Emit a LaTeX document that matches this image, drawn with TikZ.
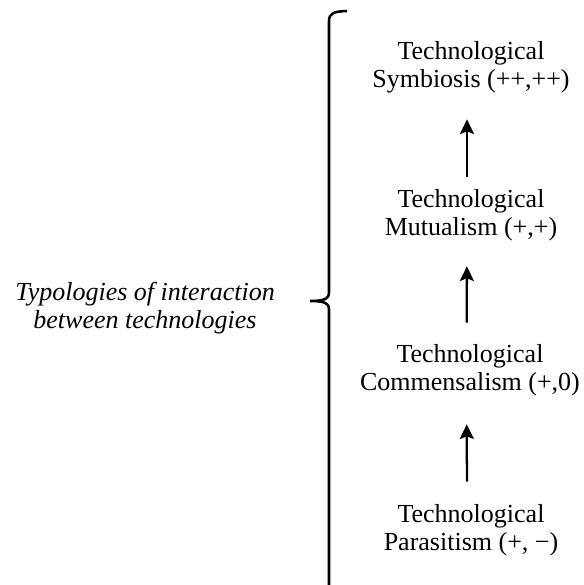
\documentclass[tikz,border=0pt]{standalone}
\usepackage{fontspec}
\setmainfont{Liberation Serif}
\usetikzlibrary{arrows.meta}

\tikzset{every picture/.style={line width=0.75pt}}
\tikzset{
  typo/.style={align=center, inner sep=0pt, font=\fontsize{19.5}{21}\selectfont},
  uparrow/.style={line width=1.7, -{Stealth[length=11pt,width=10.5pt,inset=2pt]}}
}

\begin{document}
\begin{tikzpicture}[x=0.75pt,y=0.75pt,yscale=-1,xscale=1]
\useasboundingbox (0,0) rectangle (584,585);

%Shape: Brace
\draw [line width=1.9] (347,11) .. controls (334,11.5) and (329,13) .. (329,21) -- (329,293) .. controls (329,298) and (326,301) .. (310,301) .. controls (326,301) and (329,304) .. (329,309) -- (329,585) ;

% Text Node
\draw (145,308) node [typo] (typol) {\itshape Typologies of interaction\\\itshape between technologies};

% Text Node
\draw (471,67) node [typo] (symb) {Technological\\Symbiosis (++,++)};
% Text Node
\draw (471,215) node [typo] (mutual) {Technological\\Mutualism (+,+)};
% Text Node
\draw (470,370) node [typo] (commens) {Technological\\Commensalism (+,0)};
% Text Node
\draw (471,530) node [typo] (parasit) {Technological\\Parasitism (+, −)};

%Straight Lines
\draw [uparrow, shorten <=8.5pt, shorten >=19.5pt] ([xshift=-3pt]mutual.north) -- ([xshift=-3pt]symb.south) ;
\draw [uparrow, shorten <=15.75pt, shorten >=18.75pt] ([xshift=-2.5pt]commens.north) -- ([xshift=-3pt]mutual.south) ;
\draw [uparrow, shorten <=16.5pt, shorten >=21pt] ([xshift=-3pt]parasit.north) -- ([xshift=-2.5pt]commens.south) ;

\end{tikzpicture}
\end{document}
